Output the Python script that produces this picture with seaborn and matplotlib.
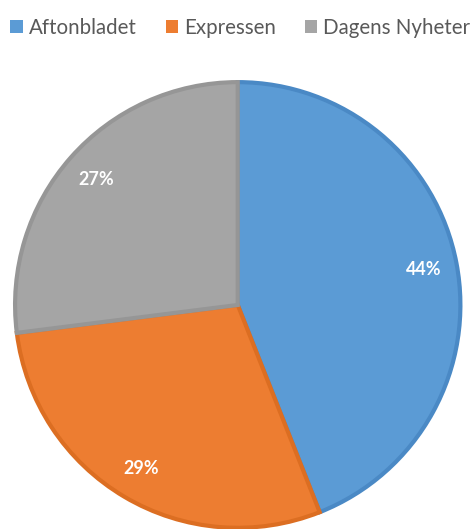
import matplotlib
matplotlib.use('Agg')
import matplotlib.pyplot as plt
import seaborn as sns

# data
tidningar = ['Aftonbladet', 'Expressen', 'Dagens Nyheter']
andel = [44, 29, 27]
farger = ['#5B9BD5', '#ED7D31', '#A5A5A5']
kanter = ['#4A89C5', '#DC6E22', '#969696']

sns.set_theme(style='white')
plt.rcParams['font.family'] = ['Lato', 'DejaVu Sans']

fig = plt.figure(figsize=(4.75, 5.29), dpi=100)
ax = fig.add_axes([0.027, -0.002, 0.947, 0.851])

wedges, texts, autotexts = ax.pie(andel, colors=farger, startangle=90, counterclock=False,
                                  autopct='%1.0f%%', pctdistance=0.85, radius=0.99,
                                  wedgeprops={'linewidth': 3, 'edgecolor': 'white'},
                                  textprops={'color': 'white', 'fontsize': 13, 'fontweight': 'bold'})
for w, k in zip(wedges, kanter):
    w.set_edgecolor(k)
ax.set_xlim(-1, 1)
ax.set_ylim(-1, 1)
ax.set_aspect('auto')

leg = fig.legend(wedges, tidningar, loc='upper left', bbox_to_anchor=(0.022, 0.966), ncol=3,
                 frameon=False, fontsize=14.8, handlelength=0.6, handleheight=0.6,
                 handletextpad=0.3, columnspacing=1.4, borderaxespad=0, borderpad=0)
for t in leg.get_texts():
    t.set_color('#595959')
for h in leg.legend_handles:
    h.set_linewidth(0)

fig.savefig('out.png', dpi=100)
